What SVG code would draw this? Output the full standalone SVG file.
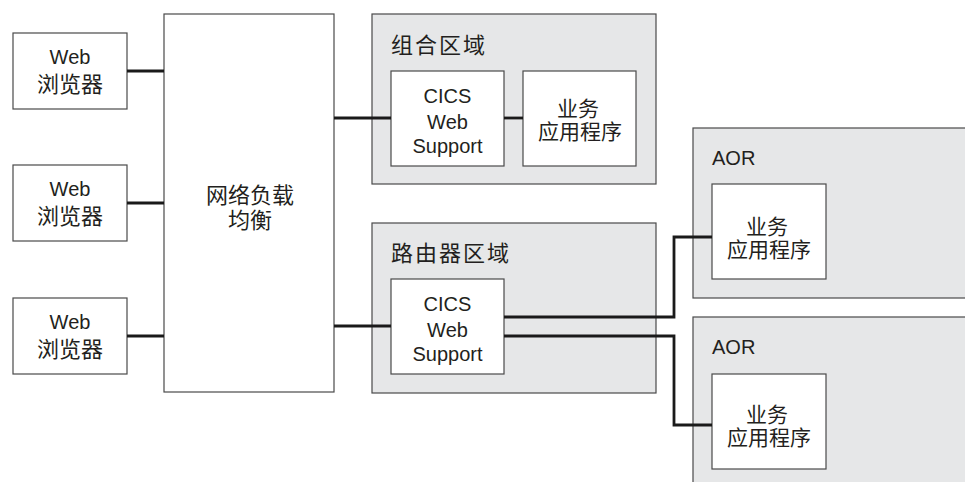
<svg xmlns="http://www.w3.org/2000/svg" width="965" height="482" viewBox="0 0 965 482">
<style>
.box{fill:#fff;stroke:#4a4a4a;stroke-width:1.2}
.region{fill:#e6e7e8;stroke:#4a4a4a;stroke-width:1.2}
.conn{fill:none;stroke:#1a1a1a;stroke-width:2.8}
text{font-family:"Liberation Sans","Noto Sans CJK SC",sans-serif;fill:#231f20}
.t{font-size:20px;text-anchor:middle}
.c{font-size:22px;text-anchor:middle}
.a{font-size:21px;text-anchor:middle}
.title{font-size:22px;letter-spacing:2px}
</style>
<rect width="965" height="482" fill="#fff"/>
<g id="browser1"><rect class="box" x="13" y="33" width="114" height="76"/><text class="t" x="70" y="64">Web</text><text class="c" x="70" y="92">浏览器</text></g>
<g id="browser2"><rect class="box" x="13" y="165" width="114" height="76"/><text class="t" x="70" y="196">Web</text><text class="c" x="70" y="224">浏览器</text></g>
<g id="browser3"><rect class="box" x="13" y="298" width="114" height="76"/><text class="t" x="70" y="329">Web</text><text class="c" x="70" y="357">浏览器</text></g>
<g id="lb"><rect class="box" x="164" y="14" width="170" height="378"/><text class="c" x="250" y="203">网络负载</text><text class="c" x="250" y="228">均衡</text></g>
<g id="composite"><rect class="region" x="372" y="14" width="284" height="170"/><text class="title" x="391" y="53">组合区域</text></g>
<g id="comp-cics"><rect class="box" x="391" y="71" width="113" height="95"/><text class="t" x="447.5" y="103">CICS</text><text class="t" x="447.5" y="129">Web</text><text class="t" x="447.5" y="153">Support</text></g>
<g id="comp-app"><rect class="box" x="523" y="71" width="113" height="95"/><text class="a" x="578" y="116">业务</text><text class="a" x="580" y="139">应用程序</text></g>
<g id="router"><rect class="region" x="372" y="223" width="284" height="170"/><text class="title" x="391" y="261">路由器区域</text></g>
<g id="router-cics"><rect class="box" x="391" y="279" width="113" height="95"/><text class="t" x="447.5" y="311">CICS</text><text class="t" x="447.5" y="337">Web</text><text class="t" x="447.5" y="361">Support</text></g>
<g id="aor1"><rect class="region" x="693" y="128" width="280" height="170"/><text class="t" x="712" y="165" style="text-anchor:start">AOR</text></g>
<g id="aor1-app"><rect class="box" x="712" y="184" width="114" height="95"/><text class="a" x="767" y="234">业务</text><text class="a" x="769" y="257">应用程序</text></g>
<g id="aor2"><rect class="region" x="693" y="317" width="280" height="175"/><text class="t" x="712" y="354" style="text-anchor:start">AOR</text></g>
<g id="aor2-app"><rect class="box" x="712" y="374" width="114" height="95"/><text class="a" x="767" y="422">业务</text><text class="a" x="769" y="445">应用程序</text></g>
<g id="connectors">
<path class="conn" d="M127,71H164"/>
<path class="conn" d="M127,203H164"/>
<path class="conn" d="M127,336H164"/>
<path class="conn" d="M334,118H391"/>
<path class="conn" d="M504,118H523"/>
<path class="conn" d="M334,326H391"/>
<path class="conn" d="M504,317H674V237H712"/>
<path class="conn" d="M504,336H674V425H712"/>
</g>
</svg>
